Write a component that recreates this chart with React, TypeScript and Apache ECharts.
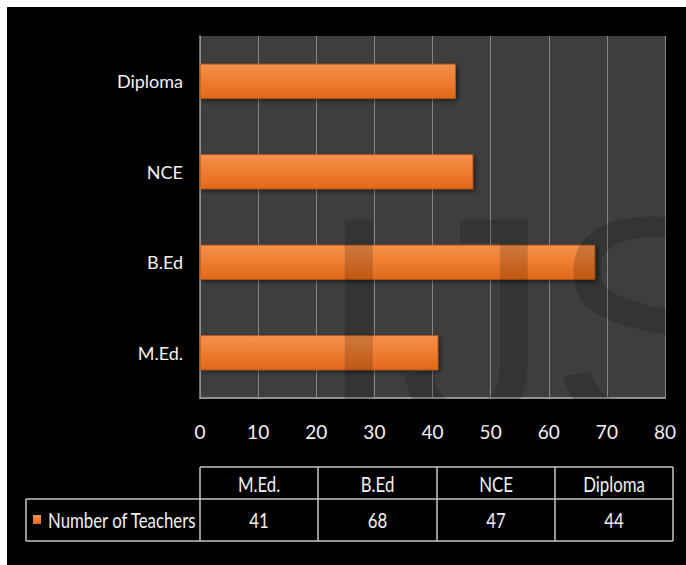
import React, { useEffect, useRef } from "react";
import * as echarts from "echarts";

const categories = ["M.Ed.", "B.Ed", "NCE", "Diploma"];
const teachers = [41, 68, 47, 44];
const seriesName = "Number of Teachers";
const xTicks = [0, 10, 20, 30, 40, 50, 60, 70, 80];
const watermark = ["I", "J", "S"];

const FONT = "Lato, 'Liberation Sans', sans-serif";
const O = 7; // container offset in page

export default function App() {
  const ref = useRef<HTMLDivElement>(null);
  useEffect(() => {
    if (!ref.current) return;
    const chart = echarts.init(ref.current, undefined, { renderer: "svg" });

    const barGrad = new echarts.graphic.LinearGradient(0, 0, 0, 1, [
      { offset: 0, color: "#f4914c" },
      { offset: 0.5, color: "#ee7d30" },
      { offset: 1, color: "#e2681a" },
    ]);

    // table layout (page coords)
    const colX = [200, 318, 437, 555, 673];
    const rowY = [467, 499, 541];
    const labelLeft = 26;
    const lineStyle = { stroke: "#c4c4c4", lineWidth: 1.5 };
    const tbl: any[] = [];
    const hl = (x1: number, x2: number, y: number) =>
      tbl.push({ type: "line", shape: { x1: x1 - O, y1: y - O, x2: x2 - O, y2: y - O }, style: lineStyle, z: 10 });
    const vl = (x: number, y1: number, y2: number) =>
      tbl.push({ type: "line", shape: { x1: x - O, y1: y1 - O, x2: x - O, y2: y2 - O }, style: lineStyle, z: 10 });
    hl(colX[0], colX[4], rowY[0]);
    hl(labelLeft, colX[4], rowY[1]);
    hl(labelLeft, colX[4], rowY[2]);
    vl(labelLeft, rowY[1], rowY[2]);
    colX.forEach((x) => vl(x, rowY[0], rowY[2]));
    const tstyle = (text: string, align: string) => ({
      text, fill: "#f2f2f2", font: `21px ${FONT}`, align, verticalAlign: "middle",
    });
    categories.forEach((c, i) => {
      const cx = (colX[i] + colX[i + 1]) / 2 - O;
      tbl.push({ type: "text", x: cx, y: (rowY[0] + rowY[1]) / 2 - O + 1, scaleX: 0.8, z: 10, style: tstyle(c, "center") });
      tbl.push({ type: "text", x: cx, y: (rowY[1] + rowY[2]) / 2 - O, scaleX: 0.8, z: 10, style: tstyle(String(teachers[i]), "center") });
    });
    tbl.push({
      type: "rect", shape: { x: 33 - O, y: 515 - O, width: 8, height: 9 }, z: 10,
      style: { fill: barGrad },
    });
    tbl.push({ type: "text", x: 48 - O, y: (rowY[1] + rowY[2]) / 2 - O, scaleX: 0.8, z: 10, style: tstyle(seriesName, "left") });

    // watermark letters (positions of each letter, page coords)
    const wmX = [317, 400, 550];
    const wm = watermark.map((t, i) => ({
      type: "text", x: wmX[i] - O, y: 315, z: 100, silent: true,
      style: {
        text: t, font: "300px 'Liberation Sans', Arial, sans-serif",
        fill: "rgba(0,0,0,0.16)", align: "left", verticalAlign: "middle",
      },
    }));

    chart.setOption({
      animation: false,
      backgroundColor: "#000",
      grid: {
        left: 200 - O, top: 36 - O, right: 686 - 665, bottom: 565 - 398,
        show: true, backgroundColor: "#3e3e3e", borderWidth: 0,
        containLabel: false,
      },
      xAxis: {
        type: "value", min: 0, max: 80, interval: 10,
        axisLine: { show: true, lineStyle: { color: "#929292", width: 2 } },
        axisTick: { show: false },
        splitLine: { show: true, lineStyle: { color: "#868686", width: 1 } },
        axisLabel: {
          color: "#f2f2f2", fontSize: 19, fontFamily: FONT, margin: 24,
          formatter: (v: number) => (xTicks.includes(v) ? String(v) : ""),
        },
      },
      yAxis: {
        type: "category", data: categories,
        axisLine: { show: true, lineStyle: { color: "#929292", width: 1.5 } },
        axisTick: { show: false },
        axisLabel: { color: "#f2f2f2", fontSize: 18, fontFamily: FONT, margin: 17 },
      },
      series: [
        {
          name: seriesName, type: "bar", data: teachers, barWidth: 35,
          itemStyle: {
            color: barGrad, borderColor: "#c95d16", borderWidth: 0.8,
            shadowColor: "rgba(0,0,0,0.55)", shadowBlur: 5, shadowOffsetX: 2, shadowOffsetY: 2,
          },
        },
      ],
      graphic: [...wm, ...tbl],
    });
    return () => chart.dispose();
  }, []);
  return (
    <div style={{ position: "absolute", left: 0, top: 0, width: 686, height: 565, background: "#fff" }}>
      <div ref={ref} style={{ position: "absolute", left: O, top: O, width: 686 - O, height: 565 - O }} />
    </div>
  );
}
